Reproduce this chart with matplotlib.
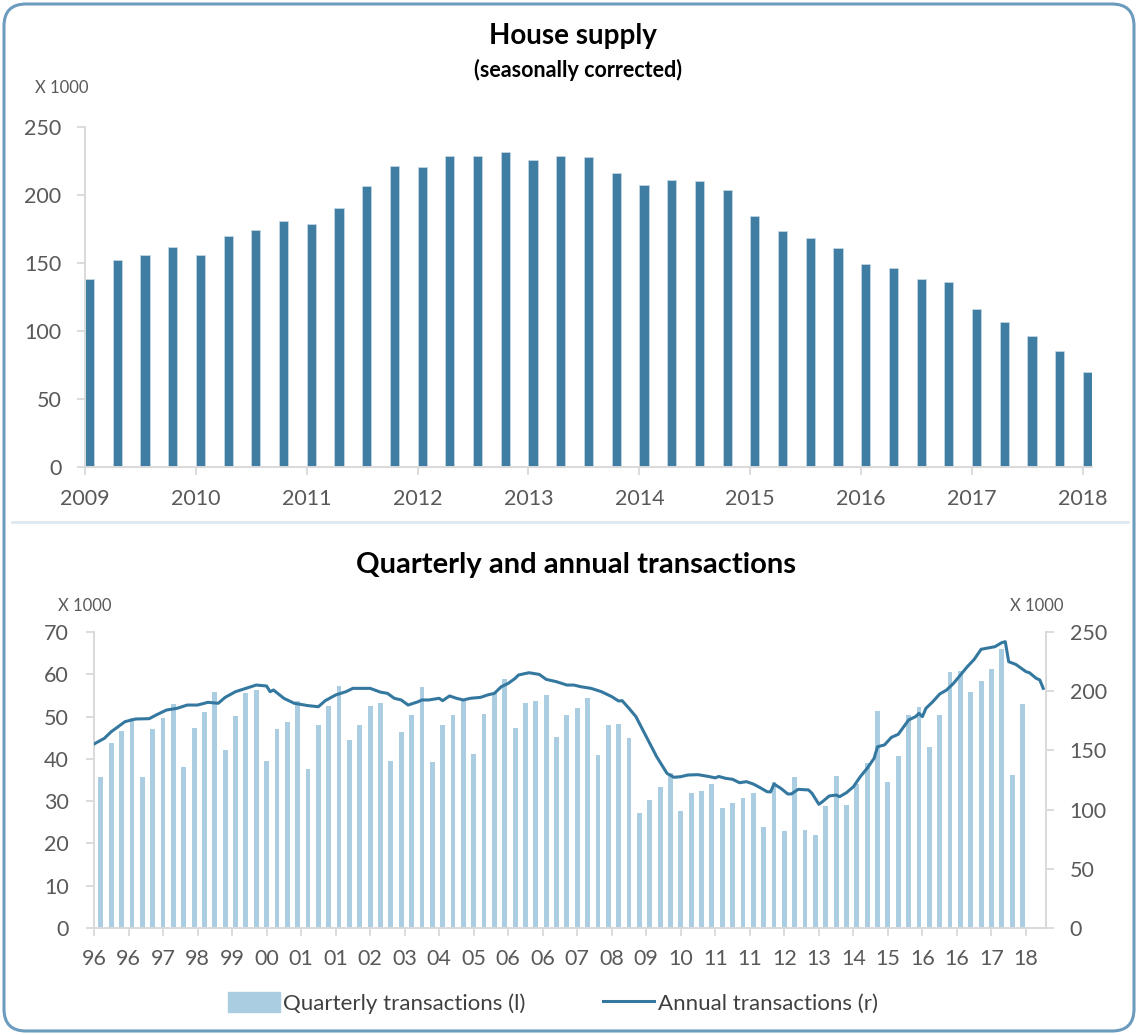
import matplotlib
matplotlib.use("Agg")
import matplotlib.pyplot as plt
from matplotlib.lines import Line2D
from matplotlib.patches import FancyBboxPatch, Patch
import numpy as np

# --- top panel: house supply, quarterly 2009Q1 - 2018Q1 (x 1000) ---
SUPPLY_YEARS = ["2009", "2010", "2011", "2012", "2013", "2014", "2015", "2016", "2017", "2018"]
SUPPLY = [138, 152.5, 156, 161.5, 155.6, 169.5, 174.4, 181, 179, 190.5,
          206.8, 221, 220.7, 229, 229, 231.5, 226, 229, 228.3, 216.3,
          207.1, 211, 210.2, 203.7, 184.9, 173.2, 168.5, 161.2, 149, 146.6,
          138, 136.3, 115.9, 106.3, 96.1, 85.1, 69.8]

# --- bottom panel: quarterly transactions 1996Q1 - 2018Q2 (x 1000, left axis) ---
QUARTERLY_FIRST = "1996-03"
QUARTERLY = [35.7, 43.7, 46.6, 49.6, 35.7, 47.0, 49.6, 53.0, 38.1, 47.4,
             51.1, 55.8, 42.2, 50.1, 55.6, 56.4, 39.6, 47.0, 48.7, 53.7,
             37.7, 48.1, 52.4, 57.2, 44.4, 48.0, 52.5, 53.3, 39.5, 46.3,
             50.3, 57.1, 39.2, 47.9, 50.3, 54.2, 41.2, 50.6, 55.6, 59.0,
             47.4, 53.1, 53.8, 55.1, 45.2, 50.3, 52.0, 54.5, 40.9, 47.9,
             48.3, 44.9, 27.2, 30.2, 33.3, 36.7, 27.7, 31.9, 32.4, 34.1,
             28.4, 29.6, 30.7, 32.0, 23.9, 34.6, 22.9, 35.7, 23.1, 22.1,
             28.9, 35.9, 29.0, 34.0, 39.1, 51.2, 34.5, 40.7, 50.4, 52.3,
             42.9, 50.3, 60.6, 60.8, 55.9, 58.3, 61.3, 66.0, 36.1, 52.9]

# annual (rolling 12 months) transactions, x 1000, right axis
ANNUAL_DATES = [
    "1996-01", "1996-04", "1996-06", "1996-08", "1996-10", "1997-01", "1997-05", "1997-07",
    "1997-10", "1998-01", "1998-04", "1998-07", "1998-10", "1999-01", "1999-03", "1999-06",
    "1999-09", "1999-12", "2000-03", "2000-04", "2000-05", "2000-08", "2000-11", "2001-03",
    "2001-06", "2001-08", "2001-11", "2002-02", "2002-04", "2002-09", "2002-12", "2003-02",
    "2003-04", "2003-06", "2003-08", "2003-11", "2003-12", "2004-02", "2004-05", "2004-06",
    "2004-08", "2004-10", "2004-12", "2005-02", "2005-05", "2005-07", "2005-09", "2005-11",
    "2006-01", "2006-03", "2006-04", "2006-07", "2006-10", "2006-12", "2007-03", "2007-06",
    "2007-08", "2007-10", "2008-01", "2008-04", "2008-06", "2008-07", "2008-09", "2008-10",
    "2008-12", "2009-02", "2009-05", "2009-08", "2009-11", "2010-01", "2010-03", "2010-05",
    "2010-08", "2010-11", "2011-01", "2011-02", "2011-04", "2011-06", "2011-08", "2011-10",
    "2011-12", "2012-02", "2012-04", "2012-05", "2012-06", "2012-08", "2012-10", "2012-11",
    "2013-01", "2013-04", "2013-05", "2013-07", "2013-08", "2013-10", "2013-12", "2014-01",
    "2014-03", "2014-05", "2014-07", "2014-09", "2014-11", "2014-12", "2015-02", "2015-04",
    "2015-06", "2015-09", "2015-11", "2015-12", "2016-01", "2016-02", "2016-04", "2016-06",
    "2016-08", "2016-10", "2016-12", "2017-02", "2017-04", "2017-06", "2017-10", "2017-12",
    "2018-01", "2018-02", "2018-04", "2018-05", "2018-07", "2018-08", "2018-10", "2018-11",
    "2018-12",
]
ANNUAL = [
    155.4, 160.2, 165.8, 170.0, 174.3, 176.5, 176.8, 179.9,
    184.1, 185.5, 188.3, 188.3, 190.6, 189.8, 194.8, 199.6,
    202.4, 205.2, 204.4, 199.6, 201.0, 194.0, 189.8, 187.8,
    186.9, 192.0, 196.8, 199.6, 202.4, 202.4, 199.2, 198.2,
    194.0, 192.6, 188.3, 191.2, 192.6, 192.6, 194.0, 192.0,
    196.0, 194.0, 192.6, 194.0, 194.8, 196.8, 198.2, 203.8,
    206.6, 210.8, 213.7, 215.6, 214.2, 210.0, 208.0, 205.2,
    205.2, 203.8, 202.4, 199.6, 196.8, 195.4, 191.7, 192.0,
    185.5, 178.5, 161.6, 144.7, 130.6, 127.3, 127.8, 129.2,
    129.5, 128.0, 126.8, 128.0, 126.4, 125.6, 122.7, 123.6,
    121.6, 118.5, 115.1, 114.9, 121.6, 117.9, 113.2, 113.2,
    117.1, 116.6, 113.8, 104.5, 106.6, 111.5, 112.3, 110.9,
    114.3, 119.3, 127.8, 134.9, 143.3, 153.1, 154.6, 161.0,
    163.6, 175.7, 178.5, 181.3, 178.5, 185.5, 191.1, 197.6,
    201.0, 206.6, 213.7, 220.7, 226.9, 235.4, 237.6, 241.0,
    241.8, 224.9, 222.7, 220.7, 216.5, 215.6, 210.8, 209.5,
    202.4,
]

BOTTOM_TICK_LABELS = ["96", "96", "97", "98", "99", "00", "01", "01", "02", "03",
                      "04", "05", "06", "06", "07", "08", "09", "10", "11", "11",
                      "12", "13", "14", "15", "16", "16", "17", "18"]

DARK = "#3f7ea2"
LIGHT = "#abcde2"
LINE = "#3478a0"
GREY_AX = "#d9d9d9"
GREY_TXT = "#595959"


def month_index(s):
    y, m = s.split("-")
    return (int(y) - 1996) * 12 + int(m) - 1


def style_axis(ax, sides):
    for side, sp in ax.spines.items():
        if side in sides:
            sp.set_color(GREY_AX)
            sp.set_linewidth(1.4)
        else:
            sp.set_visible(False)
    ax.tick_params(colors=GREY_AX, labelcolor=GREY_TXT, length=6, width=1.3,
                   labelsize=15.5, pad=10)


def main():
    plt.rcParams["font.family"] = ["Lato", "DejaVu Sans"]
    W, H = 1138, 1035
    fig = plt.figure(figsize=(W / 100, H / 100), dpi=100)

    def box(l, t, r, b):
        return [l / W, 1 - b / H, (r - l) / W, (b - t) / H]

    # outer frame + separator
    fig.add_artist(FancyBboxPatch((0.04, 0.04), W / 100 - 0.08, H / 100 - 0.08,
                                  boxstyle="round,pad=0,rounding_size=0.22",
                                  transform=fig.dpi_scale_trans, fill=False,
                                  edgecolor="#6b9bbd", linewidth=2.2))
    fig.add_artist(Line2D([12 / W, 1128 / W], [1 - 522 / H] * 2, color="#dfe8f1", lw=2))

    # ---- top panel ----
    ax1 = fig.add_axes(box(85, 127, 1092, 467))
    x1 = np.arange(len(SUPPLY))
    ax1.bar(x1, SUPPLY, width=0.33, align="edge", color=DARK,
            edgecolor="#c9dae6", linewidth=0.5)
    ax1.set_xlim(0, 36.33)
    ax1.set_ylim(0, 250)
    ax1.set_yticks(np.arange(0, 251, 50))
    ax1.set_xticks(np.arange(0, len(SUPPLY), 4))
    ax1.set_xticklabels(SUPPLY_YEARS)
    style_axis(ax1, ("left", "bottom"))
    ax1.tick_params(axis="y", pad=11)

    fig.text(573 / W, 1 - 36 / H, "House supply", ha="center", va="center",
             fontsize=20, fontweight="bold", color="black")
    fig.text(578 / W, 1 - 70 / H, "(seasonally corrected)", ha="center", va="center",
             fontsize=15.5, fontweight="bold", color="black")
    fig.text(35 / W, 1 - 88 / H, "X 1000", ha="left", va="center", fontsize=12, color=GREY_TXT)

    # ---- bottom panel ----
    ax2 = fig.add_axes(box(94, 632, 1046, 928))
    qx = month_index(QUARTERLY_FIRST) + 3 * np.arange(len(QUARTERLY))
    ax2.bar(qx, QUARTERLY, width=1.4, color=LIGHT)
    ax2.set_xlim(0, 275.8)
    ax2.set_ylim(0, 70)
    ax2.set_yticks(np.arange(0, 71, 10))
    ax2.set_xticks(np.arange(0, 10 * len(BOTTOM_TICK_LABELS), 10))
    ax2.set_xticklabels(BOTTOM_TICK_LABELS)
    style_axis(ax2, ("left", "bottom"))
    ax2.tick_params(axis="y", pad=12)
    ax2.tick_params(axis="x", pad=9)

    ax3 = ax2.twinx()
    lx = [month_index(d) for d in ANNUAL_DATES]
    ax3.plot(lx, ANNUAL, color=LINE, lw=2.2)
    ax3.set_ylim(0, 250)
    ax3.set_yticks(np.arange(0, 251, 50))
    style_axis(ax3, ("right",))
    ax3.tick_params(axis="y", pad=11)

    fig.text(576 / W, 1 - 565 / H, "Quarterly and annual transactions", ha="center",
             va="center", fontsize=21, fontweight="bold", color="black")
    fig.text(58 / W, 1 - 606 / H, "X 1000", ha="left", va="center", fontsize=12, color=GREY_TXT)
    fig.text(1010 / W, 1 - 606 / H, "X 1000", ha="left", va="center", fontsize=12, color=GREY_TXT)

    handles = [Patch(facecolor=LIGHT, edgecolor=LIGHT),
               Line2D([], [], color=LINE, lw=2.2)]
    fig.legend(handles, ["Quarterly transactions (l)", "Annual transactions (r)"],
               loc="center", bbox_to_anchor=(553 / W, 1 - 1003 / H), ncol=2,
               frameon=False, fontsize=16, handlelength=2.3, handleheight=1.0,
               handletextpad=0.15, columnspacing=3.5, labelcolor="#404040")

    fig.savefig("out.png", dpi=100)


if __name__ == "__main__":
    main()
